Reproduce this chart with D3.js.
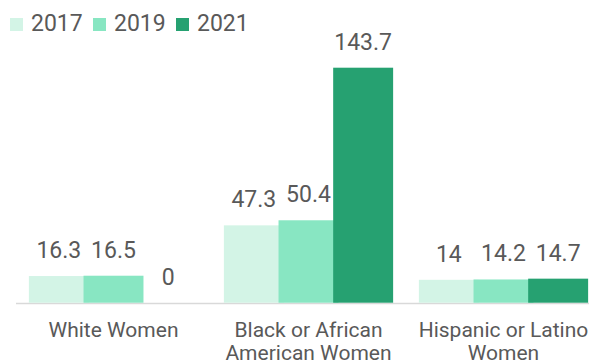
<!DOCTYPE html>
<html>
<head>
<meta charset="utf-8">
<script src="https://cdn.jsdelivr.net/npm/d3@7"></script>
<style>
  body { margin: 0; background: #fff; }
  text { font-family: Roboto, "Open Sans", sans-serif; fill: #595959; }
</style>
</head>
<body>
<div id="chart"></div>
<script>
// data
var categories = ["White Women", "Black or African American Women", "Hispanic or Latino Women"];
var years = ["2017", "2019", "2021"];
var values2017 = [16.3, 47.3, 14];
var values2019 = [16.5, 50.4, 14.2];
var values2021 = [0, 143.7, 14.7];
var colors = ["#d3f4e6", "#88e6c2", "#26a171"];

var width = 589, height = 362;
var baseY = 302.7;

var rows = categories.map(function(c, i) {
    return {
        cat: c,
        vals: [values2017[i], values2019[i], values2021[i]]
    };
});

var svg = d3.select("#chart").append("svg")
    .attr("width", width)
    .attr("height", height);

var x0 = d3.scaleBand()
    .domain(categories)
    .range([16, 601])
    .paddingInner(0.132)
    .paddingOuter(0.066);

var x1 = d3.scaleBand()
    .domain(years)
    .range([0, x0.bandwidth() - 5.3]);

var barW = x1.bandwidth() + 5.3;

var y = d3.scaleLinear()
    .domain([0, 143.7])
    .range([baseY, 67.7]);

// baseline
svg.append("line")
    .attr("x1", 16)
    .attr("x2", width)
    .attr("y1", baseY + 0.8)
    .attr("y2", baseY + 0.8)
    .attr("stroke", "#d9d9d9")
    .attr("stroke-width", 1.6);

var group = svg.selectAll("g.grp")
    .data(rows)
    .enter().append("g")
    .attr("class", "grp")
    .attr("transform", function(d) { return "translate(" + x0(d.cat) + ",0)"; });

var cells = group.selectAll("g.cell")
    .data(function(d) {
        return years.map(function(yr, j) { return { yr: yr, v: d.vals[j], j: j }; });
    })
    .enter().append("g")
    .attr("class", "cell");

cells.append("rect")
    .attr("x", function(d) { return x1(d.yr); })
    .attr("y", function(d) { return y(d.v); })
    .attr("width", barW)
    .attr("height", function(d) { return baseY - y(d.v); })
    .attr("fill", function(d) { return colors[d.j]; });

cells.append("text")
    .attr("x", function(d) { return x1(d.yr) + barW / 2; })
    .attr("y", function(d) { return y(d.v) - 18; })
    .attr("text-anchor", "middle")
    .style("font-size", "23px")
    .text(function(d) { return d.v; });

// category labels, wrapped to the band width
svg.selectAll("text.cat")
    .data(categories)
    .enter().append("text")
    .attr("class", "cat")
    .attr("x", function(d) { return x0(d) + x0.bandwidth() / 2; })
    .attr("y", 337)
    .attr("text-anchor", "middle")
    .style("font-size", "21px")
    .each(function(d) {
        var t = d3.select(this);
        var words = d.split(" ");
        var line = [];
        var lineNo = 0;
        var ts = t.append("tspan").attr("x", t.attr("x")).attr("dy", 0);
        words.forEach(function(w) {
            line.push(w);
            ts.text(line.join(" "));
            if (ts.node().getComputedTextLength() > x0.bandwidth() + 2 && line.length > 1) {
                line.pop();
                ts.text(line.join(" "));
                line = [w];
                lineNo++;
                ts = t.append("tspan").attr("x", t.attr("x")).attr("dy", "1.1em").text(w);
            }
        });
    });

// legend
var legend = svg.selectAll("g.leg")
    .data(years)
    .enter().append("g")
    .attr("class", "leg")
    .attr("transform", function(d, i) { return "translate(" + (10 + i * 83) + ",0)"; });

legend.append("rect")
    .attr("x", 0)
    .attr("y", 18)
    .attr("width", 13)
    .attr("height", 13)
    .attr("fill", function(d, i) { return colors[i]; });

legend.append("text")
    .attr("x", 21)
    .attr("y", 31)
    .style("font-size", "23px")
    .text(function(d) { return d; });
</script>
</body>
</html>
